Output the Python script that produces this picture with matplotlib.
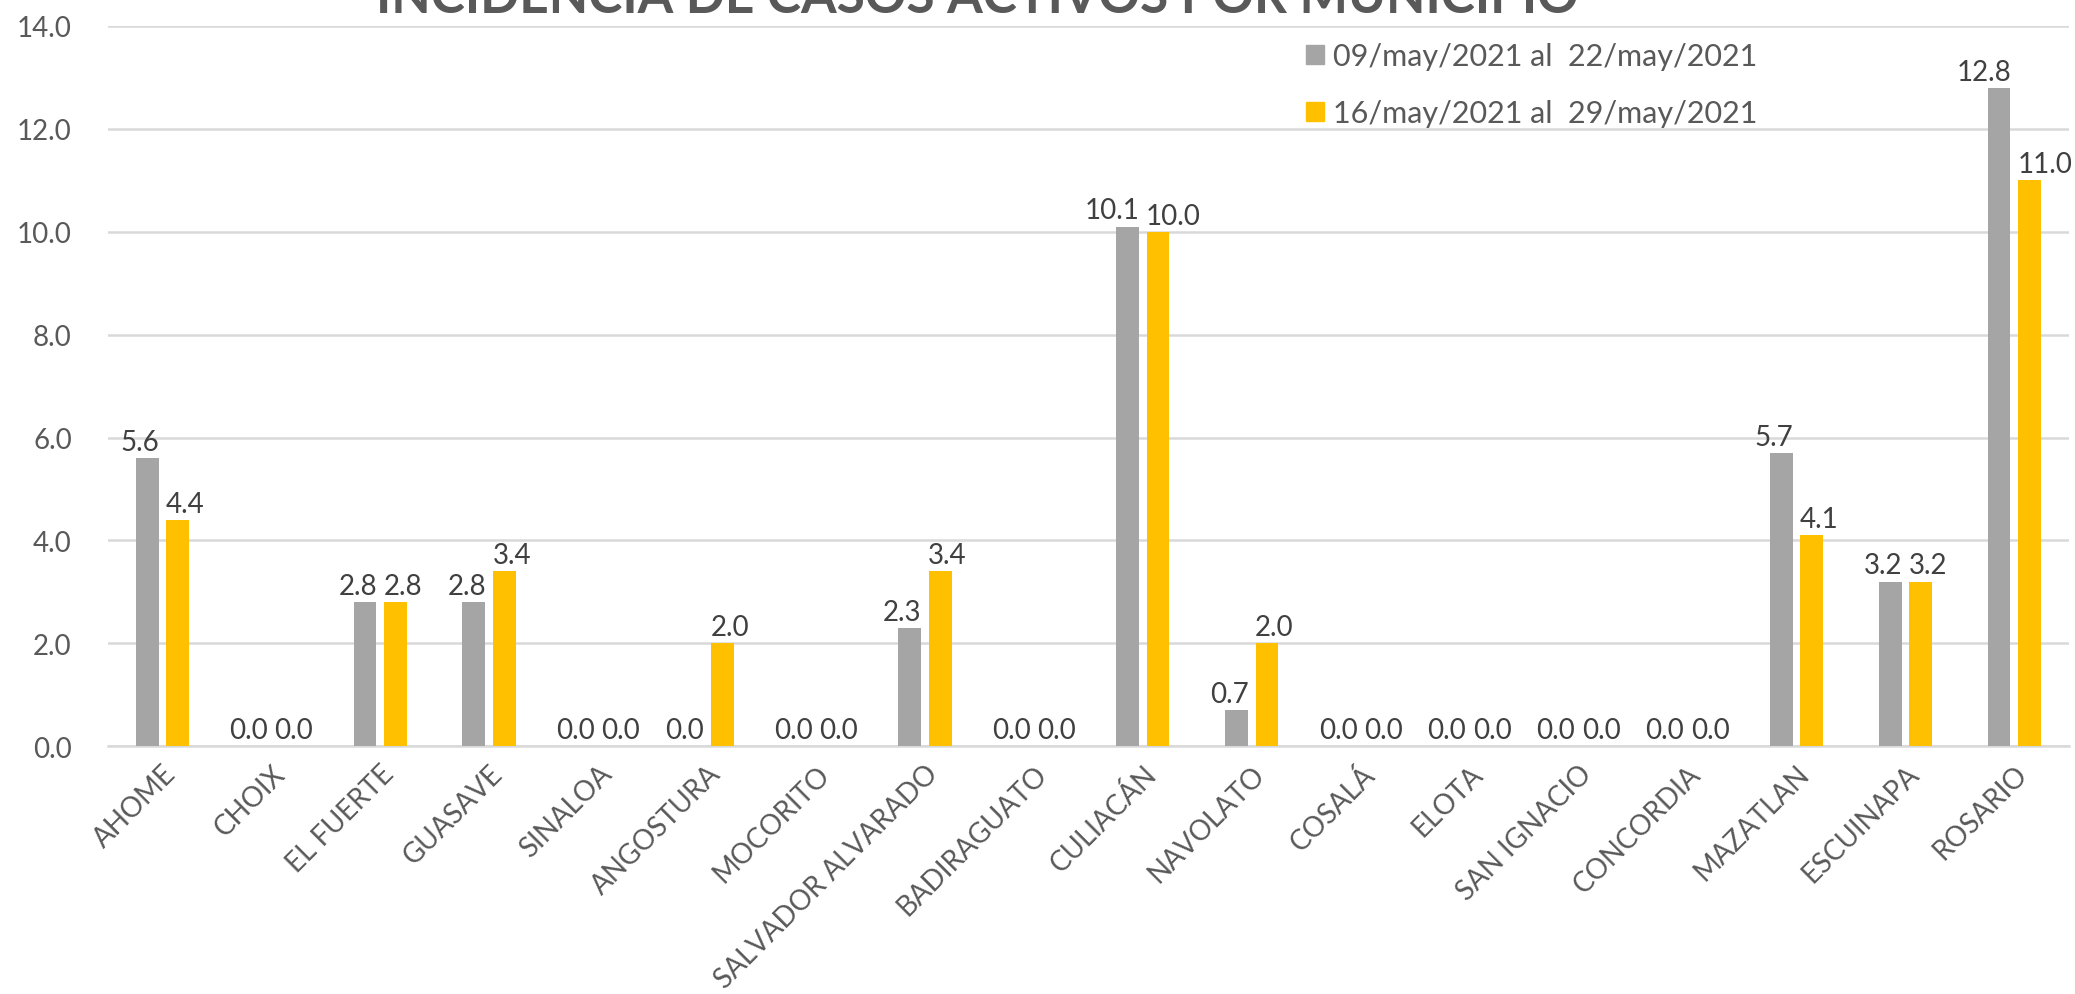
import numpy as np
import matplotlib.pyplot as plt
from matplotlib.patches import Patch

municipios = ["AHOME", "CHOIX", "EL FUERTE", "GUASAVE", "SINALOA", "ANGOSTURA",
              "MOCORITO", "SALVADOR ALVARADO", "BADIRAGUATO", "CULIACÁN", "NAVOLATO",
              "COSALÁ", "ELOTA", "SAN IGNACIO", "CONCORDIA", "MAZATLAN", "ESCUINAPA",
              "ROSARIO"]
periodo_1 = [5.6, 0.0, 2.8, 2.8, 0.0, 0.0, 0.0, 2.3, 0.0, 10.1, 0.7, 0.0, 0.0, 0.0,
             0.0, 5.7, 3.2, 12.8]
periodo_2 = [4.4, 0.0, 2.8, 3.4, 0.0, 2.0, 0.0, 3.4, 0.0, 10.0, 2.0, 0.0, 0.0, 0.0,
             0.0, 4.1, 3.2, 11.0]
etiquetas = ["09/may/2021 al  22/may/2021", "16/may/2021 al  29/may/2021"]
titulo = "INCIDENCIA DE CASOS ACTIVOS POR MUNICIPIO"

gris = "#A5A5A5"
amarillo = "#FFC000"
texto = "#595959"

plt.rcParams['font.family'] = ['Lato', 'DejaVu Sans']

fig = plt.figure(figsize=(20.75, 9.95), dpi=100)
ax = fig.add_axes([0.052, 0.249, 0.945, 0.724])

x = np.arange(len(municipios))
w = 0.21
ax.bar(x - 0.14, periodo_1, w, color=gris, zorder=3)
ax.bar(x + 0.14, periodo_2, w, color=amarillo, zorder=3)

# etiquetas de datos
for i in range(len(x)):
    ax.text(x[i] - 0.03, periodo_1[i] + 0.06, f"{periodo_1[i]:.1f}", ha='right',
            va='bottom', fontsize=20, color="#404040")
    ax.text(x[i] + 0.03, periodo_2[i] + 0.06, f"{periodo_2[i]:.1f}", ha='left',
            va='bottom', fontsize=20, color="#404040")

ax.set_xlim(-0.5, len(x) - 0.5)
ax.set_ylim(0, 14)
ax.set_yticks(np.arange(0, 14.1, 2))
ax.set_yticklabels([f"{v:.1f}" for v in np.arange(0, 14.1, 2)])
ax.set_xticks(x)
ax.set_xticklabels(municipios, rotation=45, ha='right', rotation_mode='anchor')
ax.tick_params(axis='both', length=0, labelsize=20, labelcolor=texto)
ax.tick_params(axis='x', pad=10)
ax.tick_params(axis='y', pad=26)
ax.grid(axis='y', color="#D9D9D9", lw=1.8, zorder=0)
for s in ['top', 'right', 'left']:
    ax.spines[s].set_visible(False)
ax.spines['bottom'].set_color("#D9D9D9")
ax.spines['bottom'].set_linewidth(1.8)

handles = [Patch(color=gris), Patch(color=amarillo)]
fig.legend(handles, etiquetas, loc='upper left', bbox_to_anchor=(0.622, 0.972),
           frameon=False, fontsize=22, handlelength=0.6, handleheight=0.6,
           handletextpad=0.3, labelspacing=0.95, borderpad=0, labelcolor=texto)

fig.text(0.471, 0.987, titulo, ha='center', va='baseline', fontsize=37,
         fontweight='bold', color=texto)

fig.savefig("out.png", dpi=100)
